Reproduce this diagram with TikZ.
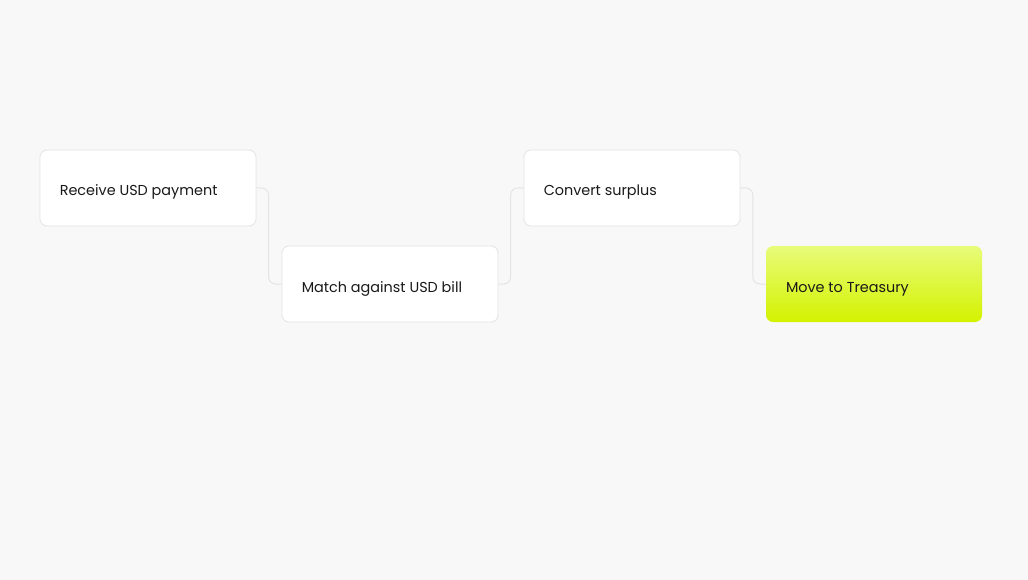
\documentclass[tikz,border=0pt]{standalone}
\usepackage{fontspec}
\setmainfont{Poppins}
\usetikzlibrary{positioning}
\definecolor{bgpage}{HTML}{F8F8F8}
\definecolor{edgegray}{HTML}{E4E4E4}
\definecolor{limetop}{HTML}{E8FC7A}
\definecolor{limebot}{HTML}{D3F200}
\tikzset{
  stepbox/.style={draw=edgegray,line width=0.8pt,fill=white,rounded corners=7pt,
    minimum width=216pt,minimum height=76pt,inner sep=0pt},
  goalbox/.style={rounded corners=7pt,top color=limetop,bottom color=limebot,
    minimum width=216pt,minimum height=76pt,inner sep=0pt},
  steplabel/.style={anchor=base west,inner sep=0pt,font=\fontsize{14.4}{17}\selectfont,text=black!90},
  link/.style={draw=edgegray,line width=1pt,rounded corners=7pt}
}
\begin{document}
\begin{tikzpicture}[x=1pt,y=-1pt]
\fill[bgpage] (0,0) rectangle (1028,580);
\useasboundingbox (0,0) rectangle (1028,580);
\node[stepbox] (receive) at (148,188) {};
\node[stepbox] (match) at (390,284) {};
\node[stepbox] (convert) at (632,188) {};
\node[goalbox] (treasury) at (874,284) {};
\node[steplabel] at ([xshift=20pt,yshift=-8pt]receive.west) {Receive USD payment};
\node[steplabel] at ([xshift=20pt,yshift=-8pt]match.west) {Match against USD bill};
\node[steplabel] at ([xshift=20pt,yshift=-8pt]convert.west) {Convert surplus};
\node[steplabel] at ([xshift=20pt,yshift=-8pt]treasury.west) {Move to Treasury};
\draw[link] (receive.east) -| ([xshift=-13pt]match.west) -- (match.west);
\draw[link] (match.east) -| ([xshift=-13pt]convert.west) -- (convert.west);
\draw[link] (convert.east) -| ([xshift=-13pt]treasury.west) -- (treasury.west);
\end{tikzpicture}
\end{document}
